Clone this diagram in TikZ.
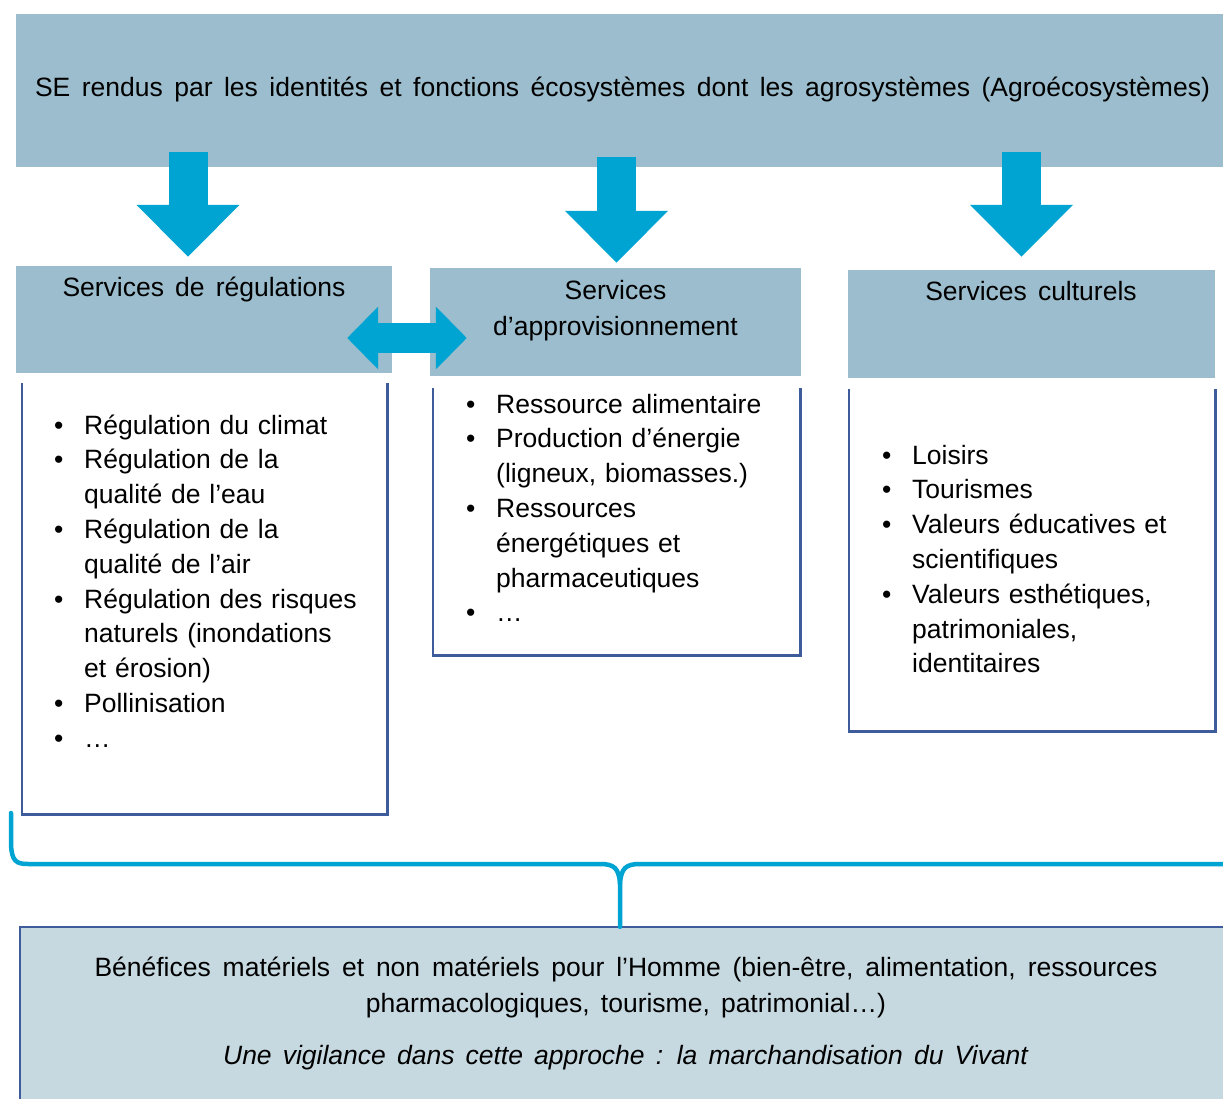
\documentclass[tikz,border=0pt]{standalone}
\usepackage{fontspec}
\setmainfont{Liberation Sans}
\usetikzlibrary{arrows.meta,calc}

\definecolor{headblue}{RGB}{155,189,205}
\definecolor{arrowblue}{RGB}{0,164,211}
\definecolor{lineblue}{RGB}{62,92,155}
\definecolor{benfill}{RGB}{198,217,225}

% text font with the wide word spaces of the original
\newcommand{\txtfont}{\fontsize{26.5}{34.8}\selectfont\spaceskip 0.42em plus 0.3em\relax}
% one bullet of a list, continuation lines hang under the text
\newcommand{\puce}[1]{\hangindent=30pt\hangafter=1\noindent\makebox[30pt][l]{\textbullet}\strut#1\par}

\tikzset{
  txt/.style={inner sep=0pt, font=\txtfont},
  headbox/.style={fill=headblue, inner sep=0pt},
  emptybox/.style={inner sep=0pt},
  boxline/.style={draw=lineblue, line width=2.6pt},
  listtxt/.style={txt, anchor=north west, text width=330pt, align=left},
  bigarrow/.style={draw=arrowblue, line width=39pt, -{Triangle[width=100pt,length=52pt]}},
  twoway/.style={draw=arrowblue, line width=30pt, {Triangle[width=61pt,length=31pt]}-{Triangle[width=61pt,length=31pt]}},
  brace/.style={draw=arrowblue, line width=4.5pt, line cap=round}
}

\begin{document}
\begin{tikzpicture}[x=1pt,y=-1pt]
  \useasboundingbox (0,0) rectangle (1223,1099);

  % top box
  \node[headbox, minimum width=1207pt, minimum height=153pt] (se) at (619.5,90.5) {};
  \node[txt, anchor=base] (set) at (622.5,97)
    {\makebox[1175pt][s]{SE rendus par les identités et fonctions écosystèmes dont les agrosystèmes (Agroécosystèmes)}};

  % the three service headers
  \node[headbox, minimum width=376pt, minimum height=107pt] (reg) at (204,319.5) {};
  \node[headbox, minimum width=371pt, minimum height=108pt] (appro) at (615.5,322) {};
  \node[headbox, minimum width=367pt, minimum height=108pt] (cult) at (1031.5,324) {};
  \node[txt, anchor=base] (regt) at (204,297) {Services de régulations};
  \node[txt, anchor=base, align=center] (approt) at (615.5,335) {Services\\[1pt]d’approvisionnement};
  \node[txt, anchor=base] (cultt) at (1031,301) {Services culturels};

  % arrows from the top box
  \coordinate (s1) at (188,152);
  \coordinate (s2) at (616.5,157);
  \coordinate (s3) at (1021.5,152);
  \draw[bigarrow] (s1) -- ([yshift=9pt]s1 |- reg.north);
  \draw[bigarrow] (s2) -- ([yshift=5pt]s2 |- appro.north);
  \draw[bigarrow] (s3) -- ([yshift=13pt]s3 |- cult.north);

  % two-way arrow between headers
  \draw[twoway] ([xshift=-45pt,yshift=-18.5pt]reg.east) -- ([xshift=37pt,yshift=-16pt]appro.west);

  % list boxes, open on top
  \node[emptybox, minimum width=365pt, minimum height=431pt] (regl) at (204.5,598.5) {};
  \node[emptybox, minimum width=367pt, minimum height=267pt] (approl) at (616.5,521.5) {};
  \node[emptybox, minimum width=366pt, minimum height=342pt] (cultl) at (1032,560) {};
  \draw[boxline] (regl.north west) |- (regl.south east) -- (regl.north east);
  \draw[boxline] (approl.north west) |- (approl.south east) -- (approl.north east);
  \draw[boxline] (cultl.north west) |- (cultl.south east) -- (cultl.north east);

  \node[listtxt] (regi) at (54,409.6) {%
    \puce{Régulation du climat}
    \puce{Régulation de la\newline qualité de l’eau}
    \puce{Régulation de la\newline qualité de l’air}
    \puce{Régulation des risques\newline naturels (inondations\newline et érosion)}
    \puce{Pollinisation}
    \puce{…}};
  \node[listtxt] (approi) at (466,388.6) {%
    \puce{Ressource alimentaire}
    \puce{Production d’énergie\newline (ligneux, biomasses.)}
    \puce{Ressources\newline énergétiques et\newline pharmaceutiques}
    \puce{…}};
  \node[listtxt] (culti) at (882,439.6) {%
    \puce{Loisirs}
    \puce{Tourismes}
    \puce{Valeurs éducatives et\newline scientifiques}
    \puce{Valeurs esthétiques,\newline patrimoniales,\newline identitaires}};

  % benefits box
  \node[emptybox, fill=benfill, minimum width=1203pt, minimum height=172pt] (ben) at (621.5,1013) {};
  \draw[boxline] (ben.south west) -- (ben.north west) -- (ben.north east);
  \node[txt, anchor=base, align=center] (bent) at (626,1064)
    {\makebox[1063pt][s]{Bénéfices matériels et non matériels pour l’Homme (bien-être, alimentation, ressources}\\[1.2pt]
     pharmacologiques, tourisme, patrimonial…)\\[17pt]
     \textit{Une vigilance dans cette approche : la marchandisation du Vivant}};

  % brace gathering the three services
  \coordinate (bl) at (11,813);
  \coordinate (bm) at (620,864);
  \draw[brace] (bl) -- (11,845) .. controls (12,861) and (16,864) .. (28,864) -- (600,864)
    .. controls (614,864) and (619,868) .. (620,884) -- (ben.north -| bm);
  \draw[brace] (1226,864) -- (640,864) .. controls (626,864) and (621,868) .. (620,884);
\end{tikzpicture}
\end{document}
